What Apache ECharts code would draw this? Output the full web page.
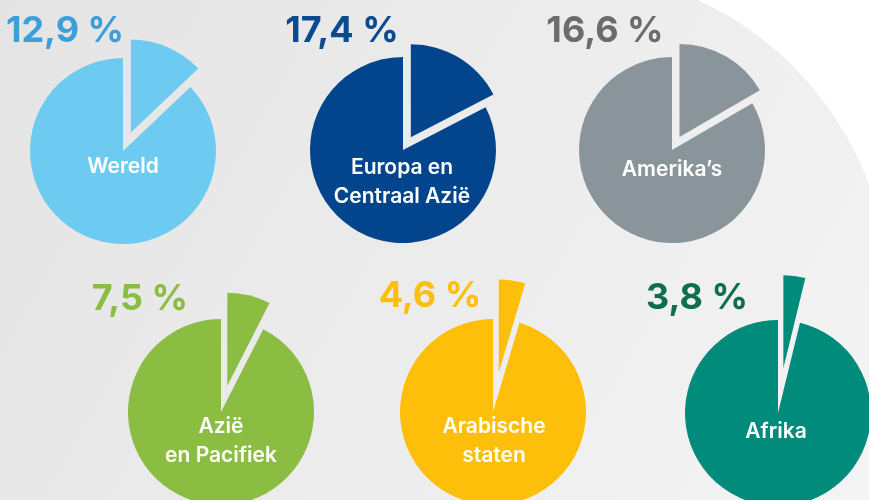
<!DOCTYPE html>
<html>
<head>
<meta charset="utf-8">
<script src="https://cdn.jsdelivr.net/npm/echarts@6/dist/echarts.min.js"></script>
<style>
  html, body { margin: 0; padding: 0; background: #fff; }
  #chart { width: 869px; height: 500px; }
</style>
</head>
<body>
<div id="chart"></div>
<script>
// regio's en aandeel (%)
const regions = ['Wereld', 'Europa en\nCentraal Azië', 'Amerika\u2019s', 'Azië\nen Pacifiek', 'Arabische\nstaten', 'Afrika']
const shares = [12.9, 17.4, 16.6, 7.5, 4.6, 3.8]
const pieColors = ['#6dcaf1', '#02458c', '#8a959b', '#8bbd43', '#fdbf0a', '#008b7b']
const pctColors = ['#3d9fd9', '#0a4a8e', '#6b6c6e', '#8bbd43', '#fcc00b', '#0d6f4f']

// layout per taartje
const centers = [[123, 151], [403, 150], [672, 150], [221, 412], [493, 412], [778, 413]]
const offsets = [20, 15, 15, 27, 40, 45]
const pctPos = [[65, 31], [342, 31], [605, 31], [140, 299], [430, 296], [697, 298]]
const namePos = [[123, 167], [402, 182], [672, 170], [221, 441], [494, 441], [776, 432]]
const R = 93

const chart = echarts.init(document.getElementById('chart'))

const fmt = v => v.toFixed(1).replace('.', ',') + ' %'

const series = shares.map((v, i) => ({
  type: 'pie',
  center: centers[i],
  radius: R,
  startAngle: 90,
  clockwise: true,
  selectedMode: 'single',
  selectedOffset: offsets[i],
  silent: true,
  label: { show: false },
  labelLine: { show: false },
  itemStyle: { color: pieColors[i], borderWidth: 0 },
  emphasis: { disabled: true },
  data: [
    { value: v, name: regions[i] + ' aandeel', selected: true },
    { value: 100 - v, name: regions[i] }
  ]
}))

// lichtgrijze achtergrond met boog rechtsboven
const bgPoints = [[0, 0]]
const a0 = Math.atan2(0 - 300, 697.5 - 560)
const a1 = Math.atan2(184.2 - 300, 869 - 560)
for (let k = 0; k <= 40; k++) {
  const a = a0 + (a1 - a0) * k / 40
  bgPoints.push([560 + 330 * Math.cos(a), 300 + 330 * Math.sin(a)])
}
bgPoints.push([869, 500], [0, 500])

const graphics = [
  {
    type: 'polygon',
    z: -10,
    silent: true,
    shape: { points: bgPoints },
    style: {
      fill: {
        type: 'linear', x: 0, y: 0, x2: 869, y2: 500, global: true,
        colorStops: [
          { offset: 0, color: '#e5e4e5' },
          { offset: 1, color: '#f4f4f4' }
        ]
      }
    }
  }
]

shares.forEach((v, i) => {
  graphics.push({
    type: 'text',
    x: pctPos[i][0],
    y: pctPos[i][1],
    z: 10,
    silent: true,
    style: {
      text: fmt(v),
      align: 'center',
      verticalAlign: 'middle',
      fill: pctColors[i],
      font: '700 36px Inter'
    }
  })
  graphics.push({
    type: 'text',
    x: namePos[i][0],
    y: namePos[i][1],
    z: 10,
    silent: true,
    style: {
      text: regions[i],
      align: 'center',
      verticalAlign: 'middle',
      fill: '#ffffff',
      font: '600 21px Inter',
      lineHeight: 29
    }
  })
})

chart.setOption({
  animation: false,
  backgroundColor: '#ffffff',
  graphic: graphics,
  series: series
})
</script>
</body>
</html>
